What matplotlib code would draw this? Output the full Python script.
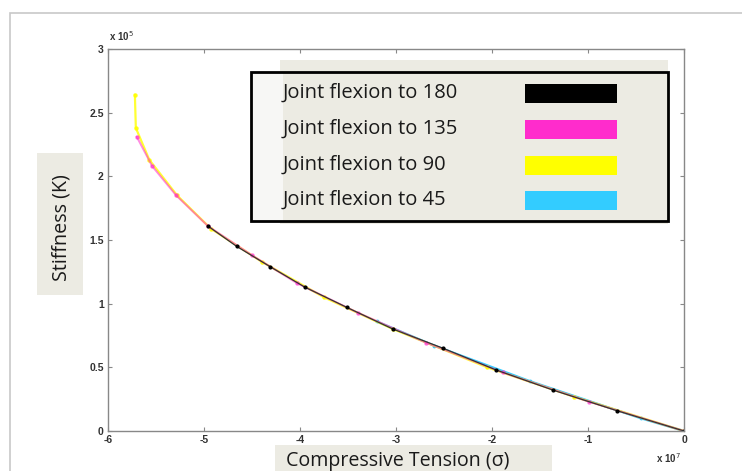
import matplotlib
matplotlib.use("Agg")
import matplotlib.pyplot as plt
from matplotlib.patches import Rectangle

# readings: sigma in units of 1e7, stiffness K in units of 1e5
sig_180 = [-4.96, -4.66, -4.31, -3.95, -3.51, -3.03, -2.51, -1.96, -1.36, -0.70, 0.0]
k_180 = [1.61, 1.45, 1.29, 1.13, 0.97, 0.80, 0.65, 0.48, 0.32, 0.16, 0.0]

sig_135 = [-5.70, -5.54, -5.29, -4.96, -4.50, -4.03, -3.40, -2.69, -1.89, -0.99, 0.0]
k_135 = [2.31, 2.08, 1.85, 1.61, 1.38, 1.16, 0.93, 0.695, 0.46, 0.23, 0.0]

sig_90 = [-5.72, -5.71, -5.57, -5.28, -4.93, -4.40, -3.75, -3.03, -2.05, -1.15, 0.0]
k_90 = [2.64, 2.38, 2.13, 1.85, 1.59, 1.33, 1.05, 0.80, 0.50, 0.27, 0.0]

sig_45 = [-3.20, -2.60, -1.60, -0.45, 0.0]
k_45 = [0.86, 0.67, 0.39, 0.10, 0.0]

labels = ["Joint flexion to 180", "Joint flexion to 135", "Joint flexion to 90", "Joint flexion to 45"]
colors = ["black", "#ff2ccc", "#ffff00", "#33ccff"]

xticks = [-6, -5, -4, -3, -2, -1, 0]
yticks = [0, 0.5, 1, 1.5, 2, 2.5, 3]

W, H = 742, 471
fig = plt.figure(figsize=(W / 100, H / 100), dpi=100)
fig.patch.set_facecolor("white")

def fx(px):
    return px / W

def fy(py):
    return 1 - py / H

# light frame of the pasted figure
fig.patches.append(Rectangle((fx(10), -0.1), 1.2, fy(13) + 0.1, transform=fig.transFigure,
                             fill=False, edgecolor="#c8c8c8", linewidth=1.2))

ax = fig.add_axes([fx(108), fy(431), fx(684) - fx(108), fy(49) - fy(431)])

# colored series first, black on top
ax.plot(sig_45, k_45, color=colors[3], linewidth=1.6, marker=".", markersize=3.5)
ax.plot(sig_90, k_90, color=colors[2], linewidth=1.6, marker=".", markersize=4.5, alpha=0.8)
ax.plot(sig_135, k_135, color=colors[1], linewidth=1.4, marker=".", markersize=4.5, alpha=0.55)
ax.plot(sig_180, k_180, color="#333333", linewidth=0.9, marker=".", markersize=4,
        markerfacecolor="black", markeredgecolor="black")

ax.set_xlim(-6, 0)
ax.set_ylim(0, 3)
ax.set_xticks(xticks)
ax.set_yticks(yticks)
ax.set_xticklabels([str(t) for t in xticks])
ax.set_yticklabels(["0", "0.5", "1", "1.5", "2", "2.5", "3"])
ax.tick_params(direction="in", length=3, width=0.8, color="#888888", top=True, right=True,
               labelsize=7.5, labelcolor="#333333", pad=3)
for lab in ax.get_xticklabels() + ax.get_yticklabels():
    lab.set_fontweight("bold")
    lab.set_family("Liberation Sans")
for sp in ax.spines.values():
    sp.set_color("#888888")
    sp.set_linewidth(1.0)

# exponent labels
fig.text(fx(109), fy(41), r"x 10$^5$", fontsize=7, fontweight="bold", color="#333333",
         family="Liberation Sans", va="baseline")
fig.text(fx(656), fy(463), r"x 10$^7$", fontsize=7, fontweight="bold", color="#333333",
         family="Liberation Sans", va="baseline")

beige = "#ecebe3"

# legend box
fig.patches.append(Rectangle((fx(280), fy(224)), fx(668) - fx(280), fy(60) - fy(224),
                             transform=fig.transFigure, facecolor=beige, edgecolor="none", zorder=5))
fig.patches.append(Rectangle((fx(251), fy(221)), fx(283) - fx(251), fy(72) - fy(221),
                             transform=fig.transFigure, facecolor="#f7f7f5", edgecolor="none", zorder=5))
fig.patches.append(Rectangle((fx(251), fy(221)), fx(668) - fx(251), fy(72) - fy(221),
                             transform=fig.transFigure, facecolor="none", edgecolor="black",
                             linewidth=2.0, zorder=6))
row_y = [93, 129, 165, 200]
for lab, col, ry in zip(labels, colors, row_y):
    fig.text(fx(283), fy(ry), lab, fontsize=14.5, family="Open Sans", color="#1a1a1a",
             va="center", ha="left", zorder=7)
    fig.patches.append(Rectangle((fx(525), fy(ry + 9.5)), fx(617) - fx(525), fy(ry - 9.5) - fy(ry + 9.5),
                                 transform=fig.transFigure, facecolor=col, edgecolor="none", zorder=7))

# axis labels on beige boxes
fig.patches.append(Rectangle((fx(37), fy(295)), fx(83) - fx(37), fy(153) - fy(295),
                             transform=fig.transFigure, facecolor=beige, edgecolor="none"))
fig.text(fx(61), fy(228), "Stiffness (K)", rotation=90, fontsize=14.2, family="Open Sans",
         color="#1a1a1a", ha="center", va="center")

fig.patches.append(Rectangle((fx(275), fy(480)), fx(552) - fx(275), fy(445) - fy(480),
                             transform=fig.transFigure, facecolor=beige, edgecolor="none"))
fig.text(fx(286), fy(461), "Compressive Tension (σ)", fontsize=14.1, family="Open Sans",
         color="#1a1a1a", ha="left", va="center")

fig.savefig("out.png", dpi=100)
